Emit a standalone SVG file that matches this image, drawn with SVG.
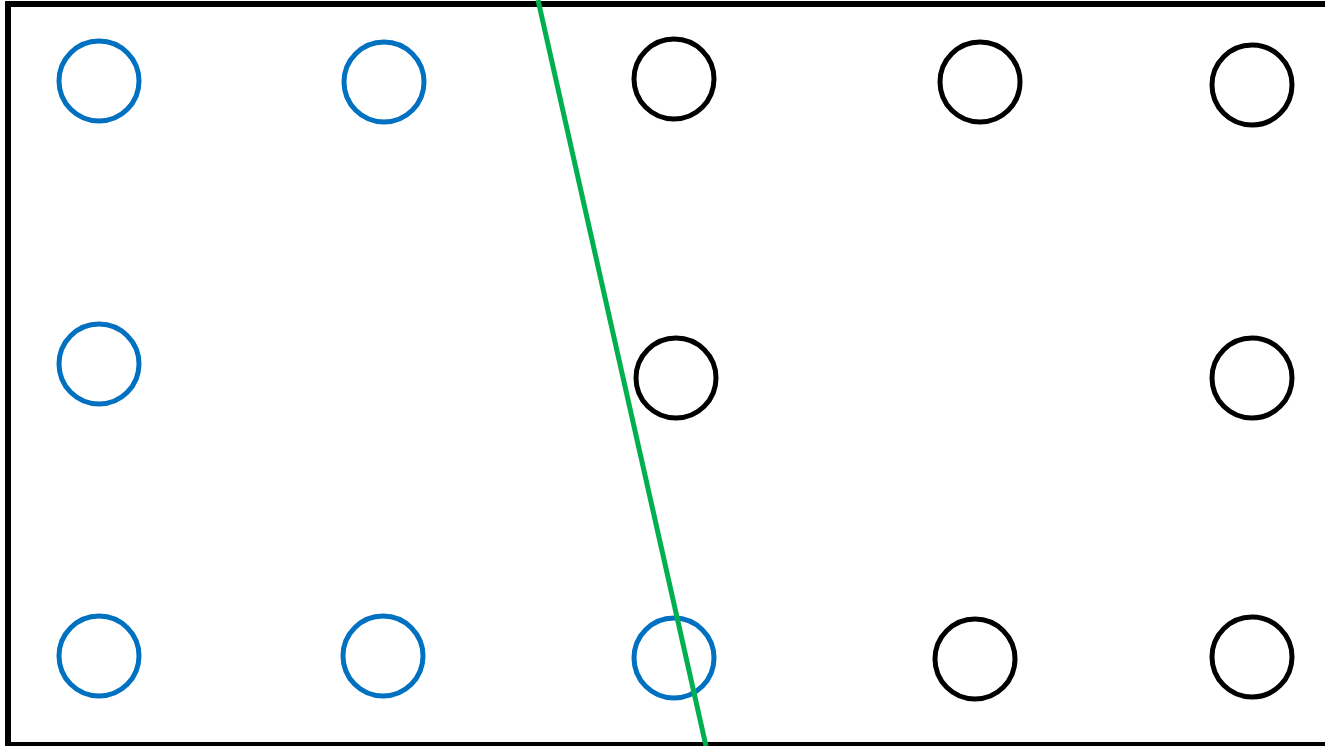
<svg xmlns="http://www.w3.org/2000/svg" width="1325" height="746" viewBox="0 0 1325 746">
<style>
.b{fill:none;stroke:#0070C0;stroke-width:5}
.k{fill:none;stroke:#000;stroke-width:5}
</style>
<rect x="0" y="0" width="1325" height="746" fill="#fff"/>
<rect x="8" y="4" width="1330" height="741" fill="none" stroke="#000" stroke-width="6"/>
<g id="n1"><circle class="b" cx="99" cy="81" r="40"/></g>
<g id="n2"><circle class="b" cx="384" cy="82" r="40"/></g>
<g id="n3"><circle class="k" cx="674" cy="79" r="40"/></g>
<g id="n4"><circle class="k" cx="980" cy="82" r="40"/></g>
<g id="n5"><circle class="k" cx="1252" cy="85" r="40"/></g>
<g id="n6"><circle class="b" cx="99" cy="364" r="40"/></g>
<g id="n7"><circle class="k" cx="676" cy="378" r="40"/></g>
<g id="n8"><circle class="k" cx="1252" cy="378" r="40"/></g>
<g id="n9"><circle class="b" cx="99" cy="656" r="40"/></g>
<g id="n10"><circle class="b" cx="383" cy="656" r="40"/></g>
<g id="n11"><circle class="b" cx="674" cy="658" r="40"/></g>
<g id="n12"><circle class="k" cx="975" cy="659" r="40"/></g>
<g id="n13"><circle class="k" cx="1252" cy="657" r="40"/></g>
<g id="connectors"><line x1="538" y1="0" x2="706" y2="746" stroke="#00B050" stroke-width="5"/></g>
</svg>
